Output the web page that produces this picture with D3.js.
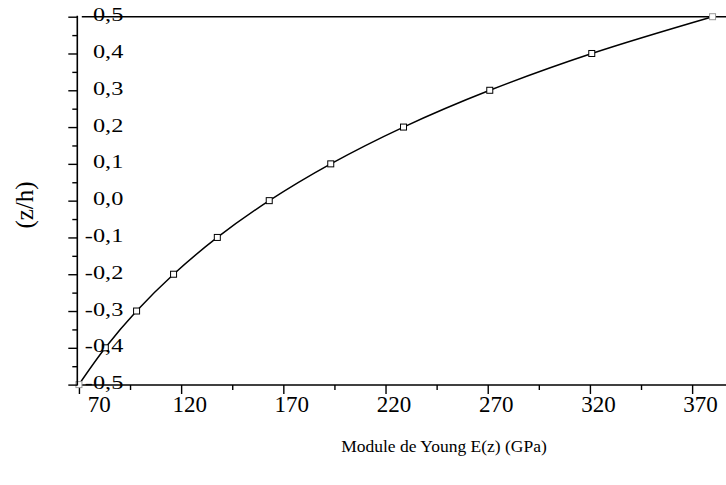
<!DOCTYPE html>
<html>
<head>
<meta charset="utf-8">
<script src="https://cdn.jsdelivr.net/npm/d3@7"></script>
<style>
  html, body { margin: 0; padding: 0; background: #fff; }
  svg { display: block; }
  text { font-family: "Liberation Serif", "Times New Roman", serif; fill: #000; }
</style>
</head>
<body>
<svg id="chart" width="726" height="485"></svg>
<script>
// Through-thickness position and Young's modulus of the graded plate
const zOverH = [-0.5, -0.4, -0.3, -0.2, -0.1, 0.0, 0.1, 0.2, 0.3, 0.4, 0.5];
const youngModulus = [70, 82.9, 98.2, 116.3, 137.7, 163.1, 193.2, 228.8, 271.0, 320.9, 380];

const xTickValues = [70, 120, 170, 220, 270, 320, 370];
const xMinorTickValues = [95, 145, 195, 245, 295, 345, 395];
const yTickValues = [-0.5, -0.4, -0.3, -0.2, -0.1, 0.0, 0.1, 0.2, 0.3, 0.4, 0.5];
const yMinorTickValues = [-0.45, -0.35, -0.25, -0.15, -0.05, 0.05, 0.15, 0.25, 0.35, 0.45];

const xTitle = "Module de Young E(z) (GPa)";
const yTitle = "(z/h)";

const svg = d3.select("#chart");
const W = 726, H = 485;

const x = d3.scaleLinear().domain([69.2, 390]).range([77.3, 733]);
const y = d3.scaleLinear().domain([-0.5, 0.5]).range([384.6, 16.7]);
const axisY = 385;
const axisX = x.range()[0];

// decimal comma, plain hyphen for negatives
const fmtY = v => {
  const s = Math.abs(v).toFixed(1).replace(".", ",");
  return (v < -1e-9 ? "-" : "") + s;
};

// ---- left axis (ticks outside, labels inside the frame) ----
const gy = svg.append("g").attr("transform", `translate(${axisX},0)`);
gy.call(d3.axisLeft(y).tickValues(yTickValues).tickSize(9).tickSizeOuter(0).tickFormat(fmtY));
gy.select(".domain").attr("stroke-width", 1.6).attr("d", `M0,${y(0.5) - 1}V${axisY + 0.5}`);
gy.selectAll(".tick line").attr("stroke-width", 1.4);
const sx = 1.35;
gy.selectAll(".tick text")
  .attr("text-anchor", "end")
  .attr("font-size", 18)
  .attr("x", 46 / sx)
  .attr("y", 4)
  .attr("dy", 0)
  .attr("transform", `scale(${sx},1)`)
  .style("font-family", '"Liberation Serif", "Times New Roman", serif');
const gyMinor = svg.append("g").attr("transform", `translate(${axisX},0)`);
gyMinor.call(d3.axisLeft(y).tickValues(yMinorTickValues).tickSize(5).tickSizeOuter(0).tickFormat(""));
gyMinor.select(".domain").remove();
gyMinor.selectAll(".tick line").attr("stroke-width", 1.4);

// ---- bottom axis ----
const gx = svg.append("g").attr("transform", `translate(0,${axisY})`);
gx.call(d3.axisBottom(x).tickValues(xTickValues).tickSize(9).tickSizeOuter(0).tickFormat(d3.format("d")));
gx.select(".domain").attr("stroke-width", 1.6).attr("d", `M${axisX},0H${W + 10}`);
gx.selectAll(".tick line").attr("stroke-width", 1.4);
gx.selectAll(".tick text")
  .attr("font-size", 23)
  .attr("y", 26.7)
  .attr("dy", 0)
  .attr("text-anchor", "start")
  .style("font-family", '"Liberation Serif", "Times New Roman", serif')
  .each(function (d) {
    const w = this.getComputedTextLength();
    // centre slightly right of the tick, but keep clear of the left axis
    let start = 8 - w / 2;
    const tickX = x(d);
    if (tickX + start < axisX + 10) start = axisX + 10 - tickX;
    d3.select(this).attr("x", start);
  });
const gxMinor = svg.append("g").attr("transform", `translate(0,${axisY})`);
gxMinor.call(d3.axisBottom(x).tickValues(xMinorTickValues).tickSize(5).tickSizeOuter(0).tickFormat(""));
gxMinor.select(".domain").remove();
gxMinor.selectAll(".tick line").attr("stroke-width", 1.4);

// ---- top boundary line at z/h = 0.5 ----
svg.append("line")
  .attr("x1", axisX + 4.5).attr("x2", W + 10)
  .attr("y1", y(0.5)).attr("y2", y(0.5))
  .attr("stroke", "#000").attr("stroke-width", 1.6);

// ---- curve and markers ----
const pts = zOverH.map((z, i) => ({ z, E: youngModulus[i] }));
const line = d3.line()
  .x(d => x(d.E))
  .y(d => y(d.z))
  .curve(d3.curveCatmullRom.alpha(0.5));
svg.append("path")
  .datum(pts)
  .attr("d", line)
  .attr("fill", "none")
  .attr("stroke", "#000")
  .attr("stroke-width", 1.5);

const ms = 6;
svg.append("g").selectAll("rect")
  .data(pts)
  .join("rect")
  .attr("x", d => x(d.E) - ms / 2)
  .attr("y", d => y(d.z) - ms / 2)
  .attr("width", ms).attr("height", ms)
  .attr("fill", "#fff")
  .attr("stroke", (d, i) => (i === 0 || i === pts.length - 1) ? "#999" : "#000")
  .attr("stroke-width", 1);

// y tick labels drawn above the curve
gy.raise();

// ---- titles ----
svg.append("text")
  .attr("transform", `translate(33,205) rotate(-90)`)
  .attr("text-anchor", "middle")
  .attr("font-size", 25)
  .text(yTitle);

svg.append("text")
  .attr("x", 444).attr("y", 452)
  .attr("text-anchor", "middle")
  .attr("font-size", 17.5)
  .text(xTitle);
</script>
</body>
</html>
